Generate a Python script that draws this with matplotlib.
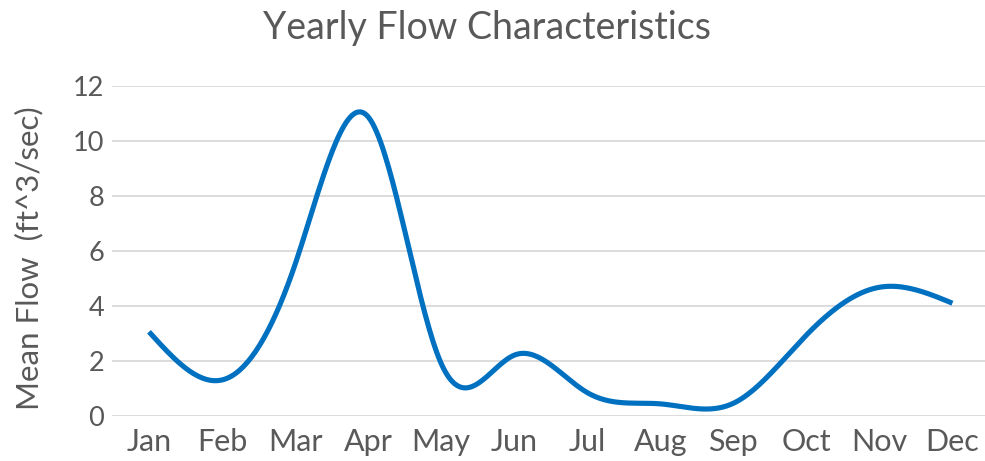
import numpy as np
import matplotlib
matplotlib.use('Agg')
import matplotlib.pyplot as plt

plt.rcParams['font.family'] = ['Lato', 'DejaVu Sans']

# data
months = ['Jan', 'Feb', 'Mar', 'Apr', 'May', 'Jun', 'Jul', 'Aug', 'Sep', 'Oct', 'Nov', 'Dec']
mean_flow = [3.05, 1.3, 5.5, 10.87, 1.9, 2.2, 0.84, 0.43, 0.45, 2.93, 4.67, 4.09]

text_col = '#595959'
line_col = '#0070C0'


def smooth(xs, ys, n=400):
    # natural cubic spline through the points
    xs = np.asarray(xs, float)
    ys = np.asarray(ys, float)
    k = len(xs)
    h = np.diff(xs)
    A = np.zeros((k, k))
    r = np.zeros(k)
    A[0, 0] = A[-1, -1] = 1
    for i in range(1, k - 1):
        A[i, i - 1] = h[i - 1]
        A[i, i] = 2 * (h[i - 1] + h[i])
        A[i, i + 1] = h[i]
        r[i] = 6 * ((ys[i + 1] - ys[i]) / h[i] - (ys[i] - ys[i - 1]) / h[i - 1])
    m = np.linalg.solve(A, r)
    xx = np.linspace(xs[0], xs[-1], n)
    j = np.clip(np.searchsorted(xs, xx) - 1, 0, k - 2)
    a = xs[j + 1] - xx
    b = xx - xs[j]
    hj = h[j]
    yy = (m[j] * a ** 3 + m[j + 1] * b ** 3) / (6 * hj) \
        + (ys[j] / hj - m[j] * hj / 6) * a + (ys[j + 1] / hj - m[j + 1] * hj / 6) * b
    return xx, yy


fig = plt.figure(figsize=(9.85, 4.61), dpi=100)
ax = fig.add_axes([0.1142, 0.0983, 0.8898, 0.7158])

x = np.arange(len(months))
sx, sy = smooth(x, mean_flow)
ax.plot(sx, sy, color=line_col, linewidth=3.7, solid_capstyle='butt', zorder=3)

ax.set_xlim(-0.5, len(months) - 0.5)
ax.set_ylim(0, 12)
ax.set_yticks(range(0, 13, 2))
ax.set_xticks(x)
ax.set_xticklabels(months)
ax.grid(axis='y', color='#d9d9d9', linewidth=1.3)
ax.set_axisbelow(True)
for s in ax.spines.values():
    s.set_visible(False)
ax.tick_params(axis='both', length=0, colors=text_col)
ax.tick_params(axis='y', labelsize=19.5, pad=6)
ax.tick_params(axis='x', labelsize=22, pad=9)

fig.text(0.0294, 0.441, 'Mean Flow  (ft^3/sec)', rotation=90, ha='center', va='center',
         fontsize=22.5, color=text_col)
fig.text(0.494, 0.94, 'Yearly Flow Characteristics', ha='center', va='center',
         fontsize=27, color=text_col)

fig.savefig('out.png', dpi=100, facecolor='white')
